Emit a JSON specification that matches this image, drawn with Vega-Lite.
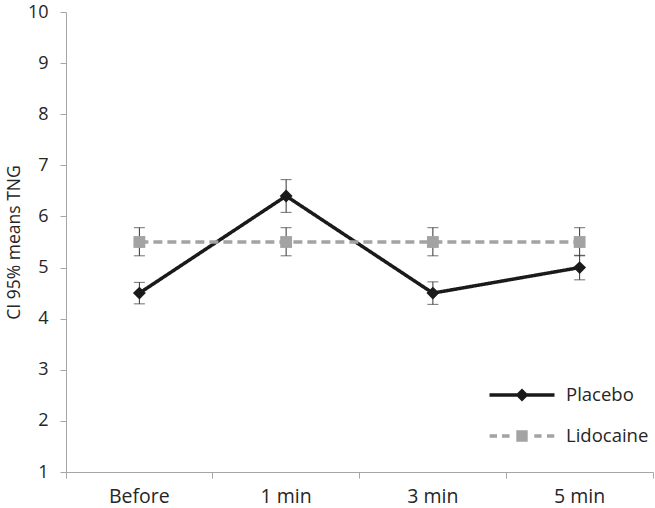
{
  "$schema": "https://vega.github.io/schema/vega-lite/v6.json",
  "autosize": {"type": "none"},
  "padding": {"left": 66, "top": 12, "right": 2, "bottom": 36},
  "width": 587,
  "height": 460,
  "background": "white",
  "config": {
    "view": {"stroke": null},
    "font": "Open Sans",
    "axis": {
      "grid": false,
      "domainColor": "#a6a6a6",
      "tickColor": "#a6a6a6",
      "tickSize": 6,
      "labelFont": "Open Sans",
      "labelFontSize": 18,
      "labelColor": "#262626",
      "titleFont": "Open Sans",
      "titleFontSize": 17.5,
      "titleFontWeight": "normal",
      "titleColor": "#262626"
    }
  },
  "data": {
    "values": [
      {"time": "Before", "series": "Placebo", "mean": 4.5, "lo": 4.29, "hi": 4.71},
      {"time": "1 min", "series": "Placebo", "mean": 6.4, "lo": 6.08, "hi": 6.72},
      {"time": "3 min", "series": "Placebo", "mean": 4.5, "lo": 4.28, "hi": 4.72},
      {"time": "5 min", "series": "Placebo", "mean": 5.0, "lo": 4.76, "hi": 5.24},
      {"time": "Before", "series": "Lidocaine", "mean": 5.5, "lo": 5.23, "hi": 5.78},
      {"time": "1 min", "series": "Lidocaine", "mean": 5.5, "lo": 5.23, "hi": 5.78},
      {"time": "3 min", "series": "Lidocaine", "mean": 5.5, "lo": 5.23, "hi": 5.78},
      {"time": "5 min", "series": "Lidocaine", "mean": 5.5, "lo": 5.23, "hi": 5.78}
    ]
  },
  "encoding": {
    "x": {
      "field": "time",
      "type": "nominal",
      "sort": ["Before", "1 min", "3 min", "5 min"],
      "scale": {"paddingInner": 0, "paddingOuter": 0},
      "axis": {"title": null, "labelAngle": 0, "bandPosition": 1, "tickExtra": true, "labelPadding": 9, "labelFontSize": 19.5}
    }
  },
  "layer": [
    {
      "mark": {"type": "errorbar", "ticks": true, "size": 11, "thickness": 1, "color": "#333333"},
      "encoding": {
        "y": {
          "field": "lo",
          "type": "quantitative",
          "scale": {"domain": [1, 10], "nice": false},
          "axis": {"title": "CI 95% means TNG", "values": [1, 2, 3, 4, 5, 6, 7, 8, 9, 10], "labelPadding": 12, "titlePadding": 4}
        },
        "y2": {"field": "hi"}
      }
    },
    {
      "mark": {"type": "line", "strokeWidth": 3.5, "strokeCap": "butt"},
      "encoding": {
        "y": {"field": "mean", "type": "quantitative"},
        "color": {
          "field": "series",
          "type": "nominal",
          "scale": {"domain": ["Placebo", "Lidocaine"], "range": ["#1a1a1a", "#a3a3a3"]},
          "legend": {
            "title": null,
            "orient": "none",
            "legendX": 446,
            "legendY": 373,
            "padding": 0,
            "rowPadding": 21,
            "labelOffset": 34,
            "labelFont": "Open Sans",
            "labelFontSize": 18.5,
            "labelColor": "#262626",
            "symbolSize": 400,
            "symbolStrokeWidth": 0,
            "symbolOpacity": 1,
            "encode": {
              "symbols": {
                "update": {
                  "fill": {"scale": "color", "field": "value"},
                  "strokeWidth": {"value": 0},
                  "opacity": {"value": 1},
                  "size": {"value": 400},
                  "shape": {"signal": "datum.value === 'Placebo' ? 'M-3.25,-0.17L3.25,-0.17L3.25,0.17L-3.25,0.17Z M-0.65,0L0,-0.65L0.65,0L0,0.65Z' : 'M-3.24,-0.17L-2.5,-0.17L-2.5,0.17L-3.24,0.17Z M-2,-0.17L-1.24,-0.17L-1.24,0.17L-2,0.17Z M-0.57,-0.57L0.57,-0.57L0.57,0.57L-0.57,0.57Z M1.23,-0.17L1.96,-0.17L1.96,0.17L1.23,0.17Z M2.5,-0.17L3.23,-0.17L3.23,0.17L2.5,0.17Z'"}
                }
              }
            }
          }
        },
        "strokeDash": {
          "field": "series",
          "type": "nominal",
          "scale": {"domain": ["Placebo", "Lidocaine"], "range": [[1, 0], [9, 5]]},
          "legend": null
        }
      }
    },
    {
      "transform": [{"filter": "datum.series === 'Placebo'"}],
      "mark": {"type": "point", "filled": true, "opacity": 1, "shape": "diamond", "size": 165, "color": "#1a1a1a"},
      "encoding": {
        "y": {"field": "mean", "type": "quantitative"}
      }
    },
    {
      "transform": [{"filter": "datum.series === 'Lidocaine'"}],
      "mark": {"type": "point", "filled": true, "opacity": 1, "shape": "square", "size": 140, "color": "#a3a3a3"},
      "encoding": {
        "y": {"field": "mean", "type": "quantitative"}
      }
    }
  ]
}
